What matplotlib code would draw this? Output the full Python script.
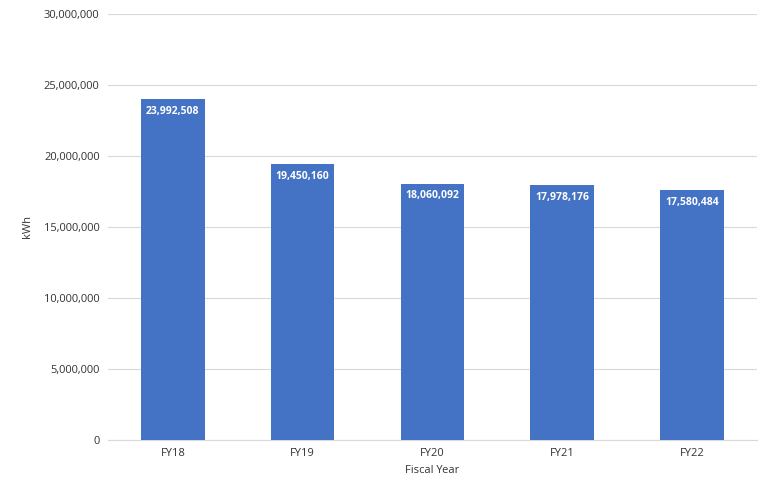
import matplotlib
matplotlib.use("Agg")
import matplotlib.pyplot as plt
from matplotlib.ticker import FuncFormatter

categories = ["FY18", "FY19", "FY20", "FY21", "FY22"]
values = [23992508, 19450160, 18060092, 17978176, 17580484]

plt.rcParams["font.family"] = "Open Sans"
fig = plt.figure(figsize=(7.69, 5), dpi=100)
ax = fig.add_axes([0.1404, 0.12, 0.844, 0.852])
x = range(len(categories))
ax.bar(x, values, width=0.49, color="#4472C4", zorder=3)
for i, v in zip(x, values):
    ax.annotate(f"{v:,}", (i, v), xytext=(0, -5), textcoords="offset points",
                ha="center", va="top", color="white", fontsize=7.5, fontweight="bold", zorder=4)
ax.set_xlim(-0.5, len(categories) - 0.5)
ax.set_ylim(0, 30000000)
ax.set_yticks(range(0, 30000001, 5000000))
ax.yaxis.set_major_formatter(FuncFormatter(lambda v, p: f"{int(v):,}"))
ax.set_xticks(list(x))
ax.set_xticklabels(categories)
ax.grid(axis="y", color="#D9D9D9", linewidth=0.8, zorder=0)
for s in ["top", "right", "left"]:
    ax.spines[s].set_visible(False)
ax.spines["bottom"].set_color("#D9D9D9")
ax.tick_params(axis="both", length=0, labelsize=8, colors="#333333", pad=6)
ax.set_xlabel("Fiscal Year", fontsize=8, color="#333333")
ax.set_ylabel("kWh", fontsize=8, color="#333333", labelpad=8)
fig.savefig("out.png", dpi=100)
